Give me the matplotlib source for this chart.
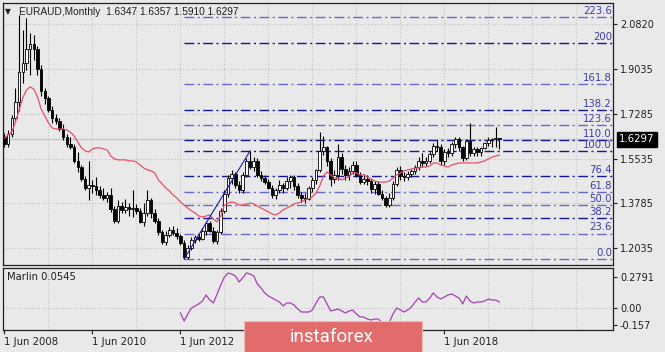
import matplotlib
matplotlib.use("Agg")
import matplotlib.pyplot as plt
from matplotlib.patches import Rectangle


# monthly EURAUD bars, first bar = 1 Jun 2008
OPEN = [1.640, 1.612, 1.650, 1.712, 1.776, 1.895, 1.930, 1.985, 2.005, 1.985,
        1.905, 1.820, 1.790, 1.745, 1.712, 1.700, 1.672, 1.640, 1.612, 1.600,
        1.545, 1.520, 1.475, 1.440, 1.450, 1.445, 1.432, 1.410, 1.400, 1.412,
        1.355, 1.310, 1.370, 1.352, 1.365, 1.355, 1.360, 1.350, 1.305, 1.340,
        1.390, 1.340, 1.308, 1.265, 1.228, 1.255, 1.275, 1.262, 1.250, 1.225,
        1.170, 1.205, 1.235, 1.245, 1.240, 1.270, 1.300, 1.270, 1.232, 1.265,
        1.350, 1.415, 1.478, 1.492, 1.450, 1.432, 1.490, 1.545, 1.520, 1.545,
        1.490, 1.478, 1.462, 1.440, 1.410, 1.432, 1.450, 1.440, 1.465, 1.482,
        1.445, 1.410, 1.400, 1.395, 1.438, 1.470, 1.508, 1.585, 1.600, 1.545,
        1.475, 1.490, 1.560, 1.515, 1.490, 1.505, 1.530, 1.490, 1.462, 1.475,
        1.465, 1.435, 1.455, 1.415, 1.398, 1.372, 1.398, 1.455, 1.510, 1.485,
        1.480, 1.495, 1.505, 1.520, 1.545, 1.535, 1.545, 1.572, 1.605, 1.600,
        1.545, 1.580, 1.575, 1.610, 1.630, 1.600, 1.555, 1.622, 1.577, 1.590,
        1.580, 1.595, 1.615, 1.625, 1.630, 1.6347]
HIGH = [1.655, 1.665, 1.725, 1.830, 2.117, 2.060, 2.105, 2.045, 2.040, 1.995,
        1.920, 1.830, 1.800, 1.760, 1.730, 1.712, 1.690, 1.650, 1.640, 1.610,
        1.580, 1.530, 1.485, 1.545, 1.470, 1.480, 1.445, 1.440, 1.425, 1.440,
        1.370, 1.390, 1.385, 1.395, 1.380, 1.430, 1.375, 1.360, 1.380, 1.430,
        1.400, 1.358, 1.320, 1.275, 1.270, 1.285, 1.290, 1.280, 1.260, 1.235,
        1.215, 1.245, 1.255, 1.260, 1.280, 1.310, 1.310, 1.285, 1.275, 1.360,
        1.430, 1.490, 1.510, 1.500, 1.465, 1.500, 1.555, 1.584, 1.560, 1.555,
        1.505, 1.490, 1.475, 1.450, 1.440, 1.470, 1.460, 1.480, 1.490, 1.490,
        1.460, 1.425, 1.420, 1.445, 1.480, 1.515, 1.660, 1.642, 1.605, 1.555,
        1.510, 1.610, 1.575, 1.530, 1.520, 1.545, 1.545, 1.500, 1.495, 1.490,
        1.475, 1.465, 1.465, 1.432, 1.408, 1.420, 1.465, 1.520, 1.525, 1.500,
        1.505, 1.515, 1.530, 1.560, 1.575, 1.560, 1.580, 1.615, 1.625, 1.610,
        1.590, 1.595, 1.620, 1.640, 1.640, 1.605, 1.630, 1.694, 1.600, 1.600,
        1.600, 1.620, 1.640, 1.635, 1.678, 1.6357]
LOW = [1.600, 1.600, 1.640, 1.700, 1.740, 1.850, 1.900, 1.880, 1.940, 1.880,
       1.800, 1.770, 1.735, 1.695, 1.690, 1.662, 1.625, 1.600, 1.590, 1.535,
       1.500, 1.465, 1.430, 1.390, 1.420, 1.410, 1.400, 1.390, 1.385, 1.345,
       1.300, 1.300, 1.340, 1.340, 1.330, 1.325, 1.335, 1.300, 1.290, 1.330,
       1.320, 1.300, 1.255, 1.220, 1.215, 1.245, 1.255, 1.240, 1.215, 1.1604,
       1.162, 1.195, 1.225, 1.230, 1.235, 1.255, 1.265, 1.225, 1.220, 1.260,
       1.340, 1.405, 1.455, 1.440, 1.420, 1.420, 1.480, 1.515, 1.505, 1.480,
       1.465, 1.455, 1.435, 1.400, 1.395, 1.420, 1.420, 1.430, 1.440, 1.430,
       1.400, 1.385, 1.380, 1.390, 1.425, 1.455, 1.500, 1.570, 1.525, 1.445,
       1.460, 1.470, 1.495, 1.470, 1.470, 1.495, 1.480, 1.455, 1.455, 1.450,
       1.420, 1.415, 1.410, 1.390, 1.364, 1.365, 1.390, 1.445, 1.470, 1.465,
       1.470, 1.480, 1.495, 1.510, 1.520, 1.525, 1.535, 1.560, 1.585, 1.530,
       1.530, 1.560, 1.565, 1.595, 1.585, 1.545, 1.550, 1.565, 1.565, 1.565,
       1.565, 1.590, 1.605, 1.600, 1.600, 1.5910]
CLOSE = [1.612, 1.650, 1.712, 1.776, 1.895, 1.930, 1.985, 2.005, 1.985, 1.905,
         1.820, 1.790, 1.745, 1.712, 1.700, 1.672, 1.640, 1.612, 1.600, 1.545,
         1.520, 1.475, 1.440, 1.450, 1.445, 1.432, 1.410, 1.400, 1.412, 1.355,
         1.310, 1.370, 1.352, 1.365, 1.355, 1.360, 1.350, 1.305, 1.340, 1.390,
         1.340, 1.308, 1.265, 1.228, 1.255, 1.275, 1.262, 1.250, 1.225, 1.170,
         1.205, 1.235, 1.245, 1.240, 1.270, 1.300, 1.270, 1.232, 1.265, 1.350,
         1.415, 1.478, 1.492, 1.450, 1.432, 1.490, 1.545, 1.520, 1.545, 1.490,
         1.478, 1.462, 1.440, 1.410, 1.432, 1.450, 1.440, 1.465, 1.482, 1.445,
         1.410, 1.400, 1.395, 1.438, 1.470, 1.508, 1.585, 1.600, 1.545, 1.475,
         1.490, 1.560, 1.515, 1.490, 1.505, 1.530, 1.490, 1.462, 1.475, 1.465,
         1.435, 1.455, 1.415, 1.398, 1.372, 1.398, 1.455, 1.510, 1.485, 1.480,
         1.495, 1.505, 1.520, 1.545, 1.535, 1.545, 1.572, 1.605, 1.600, 1.545,
         1.580, 1.575, 1.610, 1.630, 1.600, 1.555, 1.622, 1.577, 1.590, 1.580,
         1.595, 1.615, 1.625, 1.630, 1.6347, 1.6297]

# red moving average, one value per bar
MA = [1.635, 1.647, 1.658, 1.698, 1.745, 1.792, 1.823, 1.835, 1.827, 1.796,
      1.749, 1.721, 1.694, 1.674, 1.670, 1.670, 1.670, 1.666, 1.658, 1.643,
      1.619, 1.596, 1.584, 1.580, 1.592, 1.596, 1.596, 1.592, 1.588, 1.564,
      1.553, 1.549, 1.549, 1.549, 1.545, 1.545, 1.541, 1.529, 1.517, 1.510,
      1.506, 1.498, 1.470, 1.455, 1.439, 1.427, 1.411, 1.400, 1.384, 1.372,
      1.360, 1.349, 1.341, 1.329, 1.325, 1.329, 1.333, 1.317, 1.306, 1.329,
      1.372, 1.380, 1.384, 1.380, 1.372, 1.372, 1.376, 1.380, 1.376, 1.368,
      1.360, 1.353, 1.345, 1.337, 1.333, 1.341, 1.353, 1.360, 1.368, 1.376,
      1.380, 1.384, 1.392, 1.396, 1.404, 1.419, 1.447, 1.486, 1.502, 1.490,
      1.478, 1.478, 1.470, 1.478, 1.482, 1.498, 1.498, 1.490, 1.490, 1.482,
      1.474, 1.466, 1.462, 1.462, 1.462, 1.466, 1.478, 1.490, 1.498, 1.506,
      1.510, 1.513, 1.517, 1.517, 1.521, 1.521, 1.525, 1.537, 1.537, 1.529,
      1.525, 1.521, 1.529, 1.533, 1.537, 1.537, 1.537, 1.537, 1.537, 1.537,
      1.541, 1.545, 1.553, 1.560, 1.564, 1.568]

# Marlin oscillator, starts at bar 48 (Jun 2012)
MARLIN_START = 48
MARLIN = [-0.045, -0.117, -0.054, 0.000, 0.018, 0.036, 0.063, 0.117, 0.072, 0.045,
          0.126, 0.207, 0.279, 0.315, 0.306, 0.288, 0.234, 0.270, 0.315, 0.306,
          0.288, 0.216, 0.180, 0.135, 0.108, 0.090, 0.072, 0.054, 0.018, 0.045,
          0.045, 0.027, -0.009, -0.036, -0.036, -0.036, -0.018, 0.045, 0.099, 0.099,
          0.036, -0.027, -0.018, -0.009, -0.027, -0.045, -0.027, -0.018, -0.054, -0.081,
          -0.081, -0.099, -0.108, -0.099, -0.099, -0.135, -0.153, -0.126, -0.054, 0.000,
          -0.018, -0.036, -0.018, 0.009, 0.054, 0.090, 0.054, 0.054, 0.090, 0.135,
          0.099, 0.081, 0.099, 0.117, 0.126, 0.108, 0.090, 0.036, 0.108, 0.063,
          0.045, 0.054, 0.054, 0.063, 0.081, 0.072, 0.072, 0.0545]

FIB_LOW, FIB_HIGH = 1.1604, 1.5840
FIB_LOW_BAR, FIB_HIGH_BAR = 49, 67
FIB_LEVELS = [0.0, 23.6, 38.2, 50.0, 61.8, 76.4, 100.0, 110.0, 123.6, 138.2, 161.8, 200.0, 223.6]
FIB_LABELS = ["0.0", "23.6", "38.2", "50.0", "61.8", "76.4", "100.0", "110.0",
              "123.6", "138.2", "161.8", "200", "223.6"]
FIB_DARK = [False, False, True, False, False, True, True, True, False, True, False, True, False]

PRICE_TICKS = [2.0820, 1.9035, 1.7285, 1.5535, 1.3785, 1.2035]
MARLIN_TICKS = [0.2791, 0.0, -0.157]
MARLIN_TICK_LABELS = ["0.2791", "0.00", "-0.157"]
# 2014 and 2016 labels sit under the watermark
DATE_TICKS = [0, 24, 48, 72, 96, 120]
DATE_LABELS = ["1 Jun 2008", "1 Jun 2010", "1 Jun 2012", "", "", "1 Jun 2018"]

TITLE = "EURAUD,Monthly  1.6347 1.6357 1.5910 1.6297"
LAST_PRICE = 1.6297
MARLIN_LAST = 0.0545

W, H = 665, 352
BG = "#e9e9e9"
GRID = "#c2c2c2"


def px(x, y):
    return x / W, 1 - y / H


def main():
    fig = plt.figure(figsize=(W / 100, H / 100), dpi=100, facecolor=BG)
    ax = fig.add_axes([3 / W, (H - 265) / H, 610 / W, 262 / H], facecolor=BG)
    ax2 = fig.add_axes([3 / W, (H - 330) / H, 610 / W, 62 / H], facecolor=BG)

    n = len(CLOSE)
    xs = list(range(n))
    xmax = 166.0
    for a in (ax, ax2):
        a.set_xlim(-0.4, xmax)
        a.set_xticks(range(0, 167, 12), minor=True)
        a.grid(True, which="minor", axis="x", color=GRID, linestyle=":", linewidth=0.8)
        for s in a.spines.values():
            s.set_color("#202020")
            s.set_linewidth(0.9)
        a.yaxis.tick_right()
        a.tick_params(axis="y", which="major", direction="out", length=3, pad=2,
                      labelsize=7, colors="#202020")
        a.tick_params(axis="x", which="minor", length=0)

    # price panel
    ax.set_ylim(1.1369, 2.164)
    ax.set_yticks(PRICE_TICKS)
    ax.set_yticklabels([f"{v:.4f}" for v in PRICE_TICKS])
    ax.grid(True, which="major", axis="y", color=GRID, linestyle=":", linewidth=0.8)
    ax.set_xticks([])
    ax.axhline(LAST_PRICE, color="#c6c6c6", linewidth=1.0, zorder=1)

    for i in xs:
        o, h, l, c = OPEN[i], HIGH[i], LOW[i], CLOSE[i]
        ax.vlines(i, l, h, color="black", linewidth=0.8, zorder=3)
        up = c >= o
        ax.bar(i, abs(c - o), bottom=min(o, c), width=0.7,
               color="white" if up else "black", edgecolor="black",
               linewidth=0.6, zorder=4)

    ax.plot(xs, MA, color="#e6506a", linewidth=0.9, zorder=5)

    rng = FIB_HIGH - FIB_LOW
    for lev, lab, dark in zip(FIB_LEVELS, FIB_LABELS, FIB_DARK):
        p = FIB_LOW + rng * lev / 100
        ax.plot([FIB_LOW_BAR, xmax], [p, p], color="#16169a" if dark else "#6a6ac6",
                linewidth=1.0, linestyle=(0, (7, 2.5, 1.5, 2.5)), zorder=2)
        ax.text(xmax - 0.3, p + 0.004, lab, ha="right", va="bottom", fontsize=7.3,
                color="#3c3ca8", zorder=6)
    ax.plot([FIB_LOW_BAR, FIB_HIGH_BAR], [FIB_LOW, FIB_HIGH], color="#1a1ab0",
            linewidth=0.8, zorder=6)

    ax.text(1 + 6 / 610, LAST_PRICE, f"{LAST_PRICE:.4f}", transform=ax.get_yaxis_transform(),
            ha="left", va="center", fontsize=7.3, color="white", zorder=10, clip_on=False,
            bbox=dict(boxstyle="square,pad=0.22", fc="black", ec="black"))

    # Marlin panel
    ax2.set_ylim(-0.198, 0.360)
    ax2.set_yticks(MARLIN_TICKS)
    ax2.set_yticklabels(MARLIN_TICK_LABELS)
    ax2.axhline(0, color=GRID, linestyle=":", linewidth=0.8, zorder=1)
    mx = list(range(MARLIN_START, MARLIN_START + len(MARLIN)))
    ax2.plot(mx, MARLIN, color="#a63fb4", linewidth=0.9, zorder=3)
    ax2.set_xticks(DATE_TICKS)
    ax2.set_xticklabels(DATE_LABELS, ha="left")
    ax2.tick_params(axis="x", which="major", direction="out", length=3, pad=2,
                    labelsize=7.3, colors="#202020")

    fig.text(*px(5, 12), "\u25bc", fontsize=5.5, va="center", ha="left", color="#202020")
    fig.text(*px(19, 12), TITLE, fontsize=7.3, family="Liberation Sans",
             va="center", ha="left", color="#202020")
    fig.text(*px(7, 277), f"Marlin {MARLIN_LAST:.4f}", fontsize=7.2, va="center",
             ha="left", color="#202020")

    # watermark
    fig.patches.append(Rectangle(px(244, 352), 178 / W, 31 / H, transform=fig.transFigure,
                                 facecolor="#e26b6c", edgecolor="#f3b9b9", linewidth=0.8,
                                 zorder=20))
    fig.text(*px(332, 342), "instaforex", fontsize=13.5, family="Roboto",
             color="white", ha="center", va="baseline", zorder=21)

    fig.savefig("out.png", dpi=100, facecolor=BG)


if __name__ == "__main__":
    main()
